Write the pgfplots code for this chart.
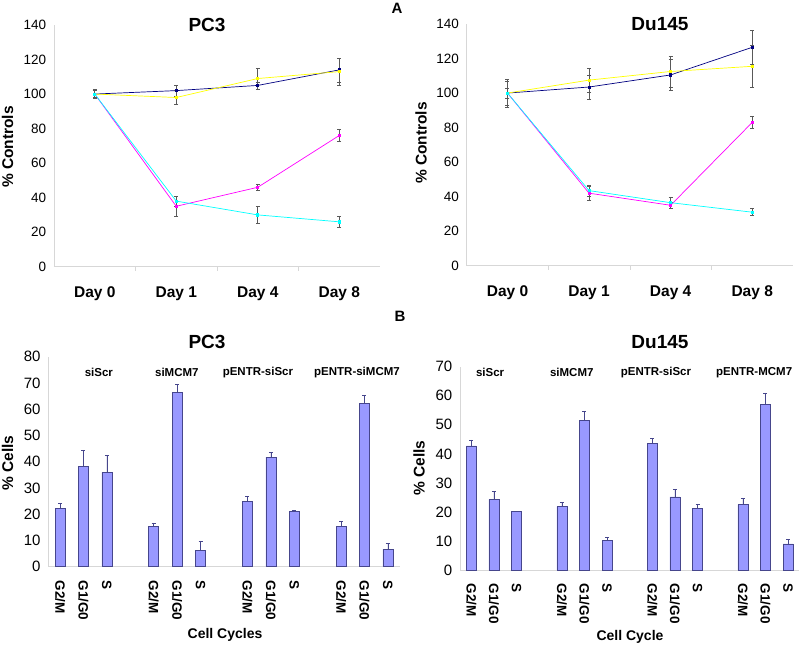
\documentclass[border=0pt]{standalone}
\usepackage{fontspec}
\setmainfont{Liberation Sans}
\usepackage{pgfplots}
\pgfplotsset{compat=1.18}
\definecolor{navyc}{RGB}{0,0,128}
\definecolor{magc}{RGB}{255,0,255}
\definecolor{yelc}{RGB}{255,255,0}
\definecolor{cyac}{RGB}{0,255,255}
\definecolor{barfill}{RGB}{153,153,255}
\definecolor{baredge}{RGB}{70,70,140}
\definecolor{axgray}{RGB}{215,215,215}
\tikzset{grp/.style={font=\bfseries\fontsize{11.5}{14}\selectfont}}
\pgfplotsset{
  common/.style={
    scale only axis,
    axis x line*=bottom, axis y line*=left,
    axis line style={axgray, line width=0.6pt},
    tick align=outside,
    major x tick style={draw=none},
    major y tick style={draw=none},
    /pgf/number format/assume math mode=true,
    clip=false,
  },
  linebase/.style={
    common,
    xmin=-0.5, xmax=3.5, ymin=0, ymax=140,
    ytick={0,20,...,140},
    xtick={0,1,2,3},
    xticklabels={Day 0,Day 1,Day 4,Day 8},
    minor xtick={0.5,1.5,2.5},
    minor tick length=4pt,
    minor x tick style={axgray, line width=0.6pt},
    yticklabel style={font=\fontsize{13.5}{16}\selectfont},
    xticklabel style={font=\bfseries\fontsize{15.5}{18}\selectfont, yshift=-12pt},
    error bars/error bar style={black!65, line width=0.5pt},
    error bars/error mark options={rotate=90, mark size=2pt, black!65, line width=0.5pt},
  },
  ln/.style={#1, line width=0.7pt, mark=square*, mark size=1.1pt, mark options={solid, fill=#1}},
  barbase/.style={
    common,
    xmin=-0.5, xmax=14.5, ymin=0,
    xtick={0,1,2,4,5,6,8,9,10,12,13,14},
    xticklabels={G2/M,G1/G0,S,G2/M,G1/G0,S,G2/M,G1/G0,S,G2/M,G1/G0,S},
    yticklabel style={font=\fontsize{15}{18}\selectfont},
    xticklabel style={font=\bfseries\fontsize{13.5}{15}\selectfont, rotate=-90, anchor=west, xshift=6pt},
    error bars/error bar style={baredge, line width=0.5pt},
    error bars/error mark options={rotate=90, mark size=2pt, baredge, line width=0.5pt},
  },
  br/.style={ybar, bar width=10pt, fill=barfill, draw=baredge, line width=0.5pt},
}
\begin{document}
\begin{tikzpicture}
\useasboundingbox (0,0) rectangle (800pt,-645pt);
% ---------- Top left: PC3 ----------
\begin{axis}[linebase, at={(54pt,-266.7pt)}, anchor=south west, width=326pt, height=241.7pt]
\addplot[ln=navyc, error bars/.cd, y dir=both, y explicit] coordinates {(0,100) +- (0,2.5) (1,102) +- (0,3) (2,105) +- (0,2) (3,114) +- (0,7)};
\addplot[ln=magc, error bars/.cd, y dir=both, y explicit] coordinates {(0,100) +- (0,2) (1,35) +- (0,6) (2,46) +- (0,2) (3,76) +- (0,3.5)};
\addplot[ln=yelc, error bars/.cd, y dir=both, y explicit] coordinates {(0,100) +- (0,2) (1,98) +- (0,4) (2,109) +- (0,6) (3,113) +- (0,8)};
\addplot[ln=cyac, error bars/.cd, y dir=both, y explicit] coordinates {(0,100) +- (0,2) (1,38) +- (0,3) (2,30) +- (0,5) (3,26) +- (0,3)};
\end{axis}
% ---------- Top right: Du145 ----------
\begin{axis}[linebase, at={(466.7pt,-265.7pt)}, anchor=south west, width=326.3pt, height=241.7pt]
\addplot[ln=navyc, error bars/.cd, y dir=both, y explicit] coordinates {(0,100) +- (0,7) (1,103.5) +- (0,7) (2,110.5) +- (0,9) (3,126.5) +- (0,10)};
\addplot[ln=magc, error bars/.cd, y dir=both, y explicit] coordinates {(0,100) +- (0,3) (1,42) +- (0,4) (2,35) +- (0,2) (3,83) +- (0,3.5)};
\addplot[ln=yelc, error bars/.cd, y dir=both, y explicit] coordinates {(0,100) +- (0,8) (1,107.5) +- (0,7) (2,112.5) +- (0,9) (3,115.5) +- (0,12)};
\addplot[ln=cyac, error bars/.cd, y dir=both, y explicit] coordinates {(0,100) +- (0,3) (1,43.5) +- (0,3) (2,36.5) +- (0,3) (3,31) +- (0,2)};
\end{axis}
% ---------- Bottom left: PC3 bars ----------
\begin{axis}[barbase, at={(48.3pt,-566.7pt)}, anchor=south west, width=351.3pt, height=210pt, ymax=80, ytick={0,10,...,80}]
\addplot[br, error bars/.cd, y dir=plus, y explicit] coordinates {
(0,22.2) +- (0,2) (1,38.2) +- (0,6) (2,35.9) +- (0,6.5)
(4,15.5) +- (0,1.1) (5,66.5) +- (0,3) (6,6.2) +- (0,3.6)
(8,24.9) +- (0,1.9) (9,41.7) +- (0,1.9) (10,21.2) +- (0,0.3)
(12,15.4) +- (0,1.9) (13,62.2) +- (0,3.1) (14,6.7) +- (0,2.2)};
\node[grp] at (axis cs:1.66,73.9) {siScr};
\node[grp] at (axis cs:4.99,73.9) {siMCM7};
\node[grp] at (axis cs:8.45,73.9) {pENTR-siScr};
\node[grp] at (axis cs:12.68,73.9) {pENTR-siMCM7};
\end{axis}
% ---------- Bottom right: Du145 bars ----------
\begin{axis}[barbase, at={(460pt,-570pt)}, anchor=south west, width=339.4pt, height=203.3pt, ymax=70, ytick={0,10,...,70}]
\addplot[br, error bars/.cd, y dir=plus, y explicit] coordinates {
(0,42.7) +- (0,2.1) (1,24.3) +- (0,2.8) (2,20.2) +- (0,0.1)
(4,21.8) +- (0,1.6) (5,51.5) +- (0,3.1) (6,10.3) +- (0,0.9)
(8,43.6) +- (0,1.7) (9,25.2) +- (0,2.6) (10,21.2) +- (0,1.4)
(12,22.5) +- (0,2.3) (13,57.0) +- (0,3.8) (14,9.0) +- (0,1.6)};
\node[grp] at (axis cs:0.83,67.9) {siScr};
\node[grp] at (axis cs:4.44,67.9) {siMCM7};
\node[grp] at (axis cs:8.16,67.9) {pENTR-siScr};
\node[grp] at (axis cs:12.5,67.9) {pENTR-MCM7};
\end{axis}
% ---------- titles and labels ----------
\node[font=\bfseries\fontsize{19}{22}\selectfont] at (207pt,-24.5pt) {PC3};
\node[font=\bfseries\fontsize{19}{22}\selectfont] at (660pt,-24.5pt) {Du145};
\node[font=\bfseries\fontsize{19}{22}\selectfont] at (207pt,-342pt) {PC3};
\node[font=\bfseries\fontsize{19}{22}\selectfont] at (660pt,-342pt) {Du145};
\node[font=\bfseries\fontsize{15}{18}\selectfont] at (397pt,-8.5pt) {A};
\node[font=\bfseries\fontsize{15}{18}\selectfont] at (400pt,-316.5pt) {B};
\node[font=\bfseries\fontsize{15.5}{18}\selectfont, rotate=90] at (7.5pt,-147pt) {\% Controls};
\node[font=\bfseries\fontsize{15.5}{18}\selectfont, rotate=90] at (421pt,-143pt) {\% Controls};
\node[font=\bfseries\fontsize{15.5}{18}\selectfont, rotate=90] at (7.5pt,-463pt) {\% Cells};
\node[font=\bfseries\fontsize{15.5}{18}\selectfont, rotate=90] at (419pt,-468pt) {\% Cells};
\node[font=\bfseries\fontsize{14}{17}\selectfont] at (225pt,-635pt) {Cell Cycles};
\node[font=\bfseries\fontsize{14}{17}\selectfont] at (630pt,-637pt) {Cell Cycle};
\end{tikzpicture}
\end{document}
